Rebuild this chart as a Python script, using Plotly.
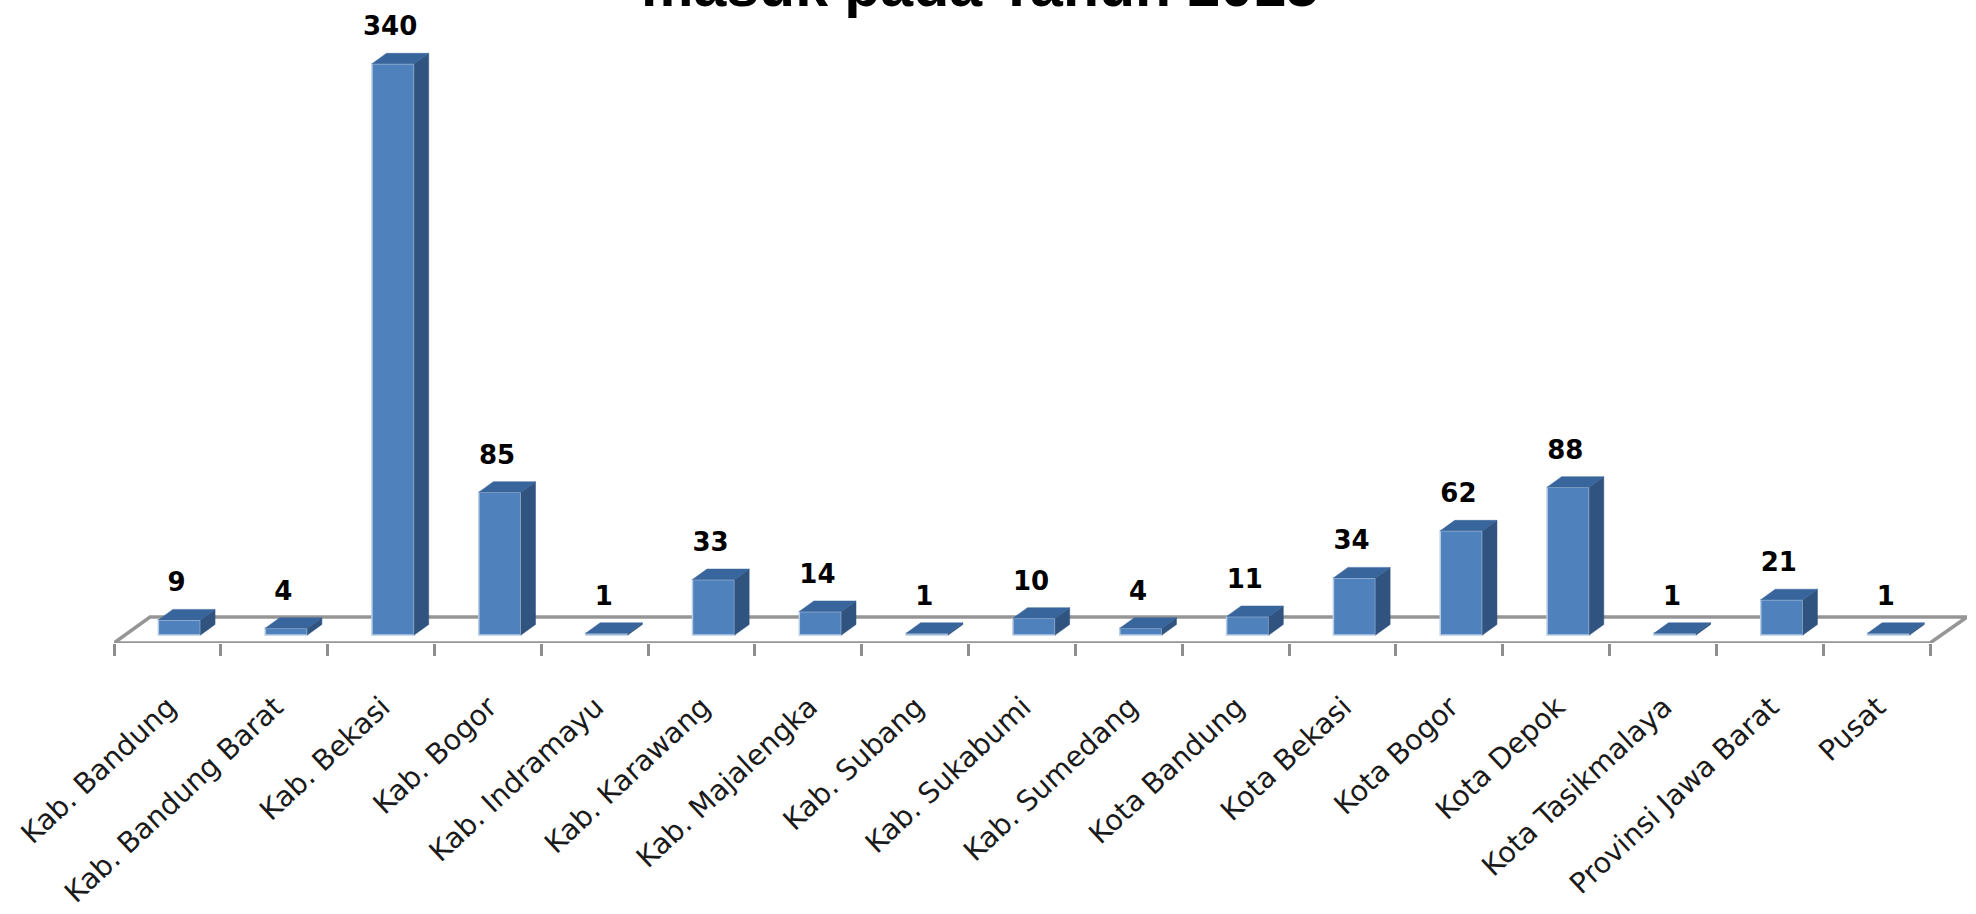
import plotly.graph_objects as go

categories = ["Kab. Bandung", "Kab. Bandung Barat", "Kab. Bekasi", "Kab. Bogor", "Kab. Indramayu",
              "Kab. Karawang", "Kab. Majalengka", "Kab. Subang", "Kab. Sukabumi", "Kab. Sumedang",
              "Kota Bandung", "Kota Bekasi", "Kota Bogor", "Kota Depok", "Kota Tasikmalaya",
              "Provinsi Jawa Barat", "Pusat"]
values = [9, 4, 340, 85, 1, 33, 14, 1, 10, 4, 11, 34, 62, 88, 1, 21, 1]
title_text = "masuk pada Tahun 2015"

# 3-D look, in axis units
BAR_OFFSET = -0.085
BAR_WIDTH = 0.395
DEPTH_X = 0.136
DEPTH_Y = 6.25
FLOOR_FRONT = -4.76
FLOOR_BACK = 10.7
X_LO, X_HI = -0.5, 16.846
Y_HI = 366.07
LAST_EDGE = 16.5

idx = list(range(len(categories)))
side_x, side_y, top_x, top_y = [], [], [], []
for i, v in zip(idx, values):
    x0 = i + BAR_OFFSET
    x1 = x0 + BAR_WIDTH
    side_x += [x1, x1 + DEPTH_X, x1 + DEPTH_X, x1, x1, None]
    side_y += [0, DEPTH_Y, v + DEPTH_Y, v, 0, None]
    top_x += [x0, x1, x1 + DEPTH_X, x0 + DEPTH_X, x0, None]
    top_y += [v, v, v + DEPTH_Y, v + DEPTH_Y, v, None]

fig = go.Figure()
fig.add_trace(go.Bar(x=idx, y=values, offset=BAR_OFFSET, width=BAR_WIDTH,
                     marker=dict(color="#4F81BD", line=dict(color="#B9CDE5", width=1.5)),
                     showlegend=False, hoverinfo="x+y"))
fig.add_trace(go.Scatter(x=side_x, y=side_y, mode="lines", fill="toself", fillcolor="#30547F",
                         line=dict(color="#30547F", width=0.5), showlegend=False, hoverinfo="skip"))
fig.add_trace(go.Scatter(x=top_x, y=top_y, mode="lines", fill="toself", fillcolor="#38659B",
                         line=dict(color="#38659B", width=0.5), showlegend=False, hoverinfo="skip"))
fig.add_trace(go.Scatter(x=[i + 0.085 for i in idx], y=[v + DEPTH_Y + 6.8 for v in values],
                         mode="text", text=[str(v) for v in values], textposition="top center",
                         textfont=dict(family="DejaVu Sans", size=26, color="#000000", weight="bold"),
                         cliponaxis=False, showlegend=False, hoverinfo="skip"))

# floor slab
fig.add_shape(type="path", layer="below", xref="x", yref="y",
              path=f"M {X_LO},{FLOOR_FRONT} L {LAST_EDGE},{FLOOR_FRONT} L {X_HI},{FLOOR_BACK} L {X_LO + 0.337},{FLOOR_BACK} Z",
              fillcolor="#FFFFFF", line=dict(color="#969696", width=3.5))

fig.add_annotation(text=f"<b>{title_text}</b>", xref="paper", yref="paper",
                   x=(980 - 114) / 1853, y=(914 - 271 - 21) / 623, xanchor="center", yanchor="bottom",
                   showarrow=False,
                   font=dict(family="Liberation Sans", size=59, color="#000000"))

fig.update_layout(
    width=1976, height=914,
    margin=dict(l=114, r=9, t=20, b=271, autoexpand=False),
    plot_bgcolor="#FFFFFF", paper_bgcolor="#FFFFFF",
    xaxis=dict(range=[X_LO, X_HI], showgrid=False, zeroline=False, showline=False, automargin=False,
               tickmode="array", tickvals=[i + 0.01 for i in idx], ticktext=categories,
               tickangle=-43, ticks="outside", ticklen=35, tickcolor="rgba(0,0,0,0)",
               tickfont=dict(family="DejaVu Sans", size=28.5, color="#1A1A1A"),
               minor=dict(ticks="outside", ticklen=12, tickwidth=3, tickcolor="#8E8E8E",
                          tick0=-0.5, dtick=1, showgrid=False)),
    yaxis=dict(range=[FLOOR_FRONT, Y_HI], visible=False),
)
fig.write_html("out.html", config=dict(displayModeBar=False),
               post_script="document.body.style.margin='0';document.body.style.overflow='hidden';")
